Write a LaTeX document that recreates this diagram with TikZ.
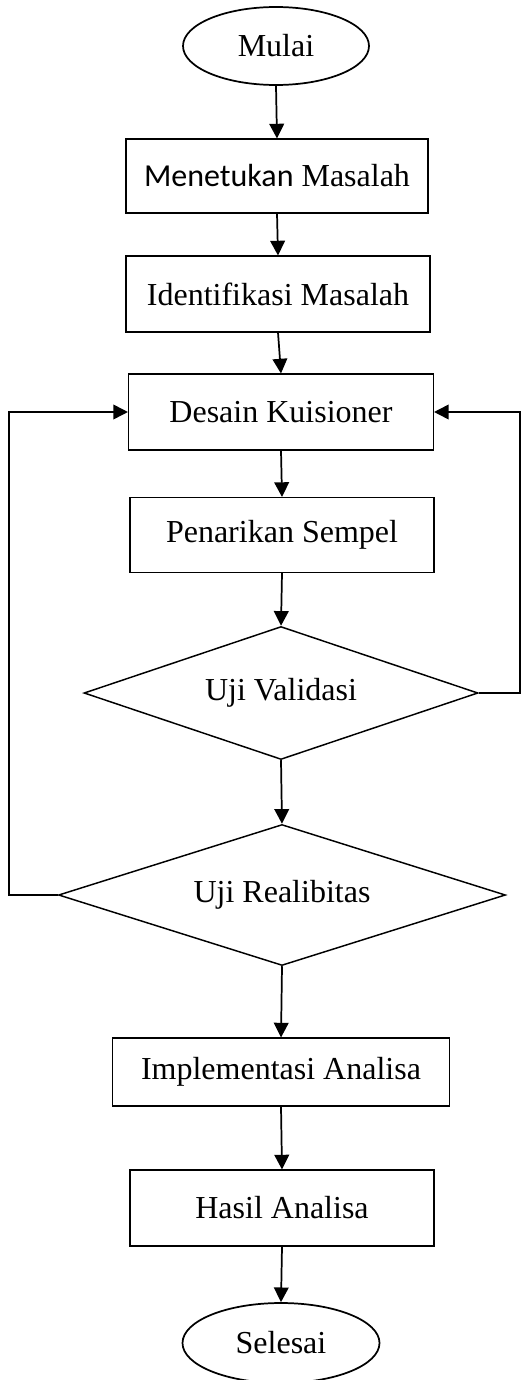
\documentclass[tikz,border=0pt]{standalone}
\usepackage{fontspec}
\setmainfont{Liberation Serif}
\newfontfamily\calibri{Carlito}
\usetikzlibrary{shapes.geometric,arrows.meta}
\tikzset{
	kotak/.style={draw,line width=0.8pt,rectangle,inner sep=0pt},
	bulat/.style={draw,line width=1.3pt,ellipse,inner sep=0pt},
	belah/.style={draw,line width=1.1pt,diamond,aspect=3,inner sep=0pt},
	panah/.style={line width=1.3pt,-{Triangle[length=11pt,width=11pt]}}
}
\begin{document}
\begin{tikzpicture}[x=0.75pt,y=-0.75pt,font=\fontsize{24}{29}\selectfont]
	\useasboundingbox (0,0) rectangle (522,1380);
	\node[bulat,minimum width=139.5pt,minimum height=58.5pt] (mulai) at (276,46) {Mulai};
	\node[kotak,minimum width=226.5pt,minimum height=55.5pt] (tentukan) at (277,176) {{\calibri Menetukan} Masalah};
	\node[kotak,minimum width=228pt,minimum height=57pt] (identifikasi) at (278,294) {Identifikasi Masalah};
	\node[kotak,minimum width=228.75pt,minimum height=57pt] (desain) at (281,412) {Desain Kuisioner};
	\node[kotak,minimum width=228pt,minimum height=56.25pt] (sampel) at (282,535) {Penarikan Sempel};
	\node[belah,minimum width=295.5pt,minimum height=99.75pt] (validasi) at (281,693) {Uji Validasi};
	\node[belah,minimum width=335.25pt,minimum height=105.75pt] (reliabilitas) at (282,895) {Uji Realibitas};
	\node[kotak,minimum width=252.75pt,minimum height=51pt] (implementasi) at (281,1072) {Implementasi Analisa};
	\node[kotak,minimum width=228pt,minimum height=57pt] (hasil) at (282,1208) {Hasil Analisa};
	\node[bulat,minimum width=147.75pt,minimum height=60pt] (selesai) at (281,1343) {Selesai};
	\coordinate (kiri) at (9,0);
	\coordinate (kanan) at (520,0);
	% alur utama
	\draw[panah] (mulai.south) -- (tentukan.north);
	\draw[panah] (tentukan.south) -- (identifikasi.north);
	\draw[panah] (identifikasi.south) -- (desain.north);
	\draw[panah] (desain.south) -- (sampel.north);
	\draw[panah] (sampel.south) -- (validasi.north);
	\draw[panah] (validasi.south) -- (reliabilitas.north);
	\draw[panah] (reliabilitas.south) -- (implementasi.north);
	\draw[panah] (implementasi.south) -- (hasil.north);
	\draw[panah] (hasil.south) -- (selesai.north);
	% umpan balik
	\draw[panah] (validasi.east) -- (validasi.east -| kanan) |- (desain.east);
	\draw[panah] (reliabilitas.west) -- (reliabilitas.west -| kiri) |- (desain.west);
\end{tikzpicture}
\end{document}
